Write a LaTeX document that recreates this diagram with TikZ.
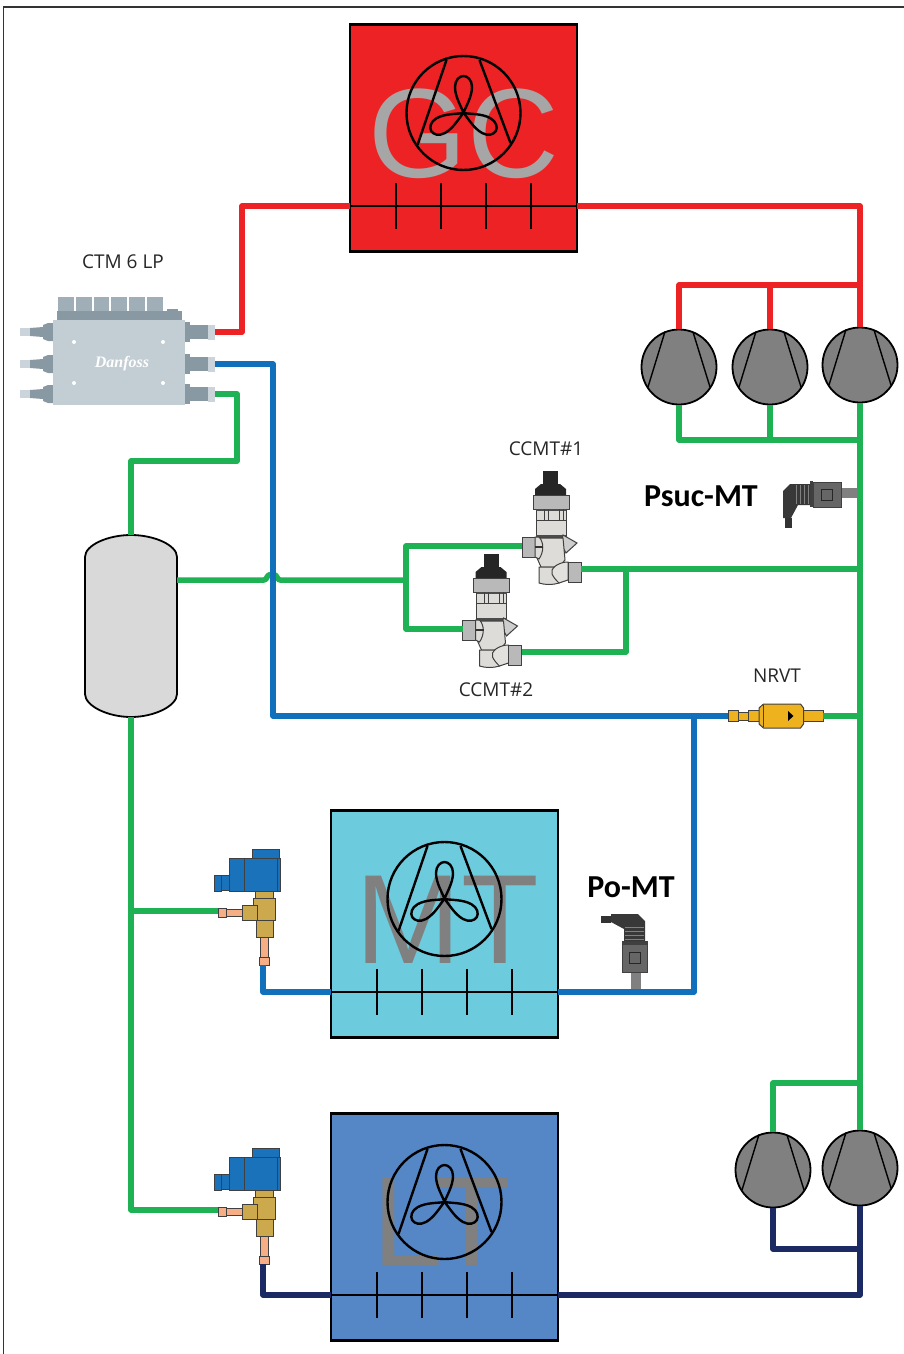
\documentclass[tikz,border=0pt]{standalone}
\usepackage{fontspec}
\setmainfont{Open Sans}
\newfontfamily\boldlabelfont{Carlito}
\newfontfamily\unitfont{Liberation Sans}
\newfontfamily\logofont{Liberation Serif}
\definecolor{pipeRed}{HTML}{ED2224}
\definecolor{pipeGreen}{HTML}{1FB254}
\definecolor{pipeBlue}{HTML}{1170BC}
\definecolor{pipeNavy}{HTML}{1C2A64}
\definecolor{mtFill}{HTML}{6CCCDE}
\definecolor{ltFill}{HTML}{5587C6}
\definecolor{ctmBody}{HTML}{C3CDD4}
\definecolor{ctmDark}{HTML}{8899A3}
\definecolor{ctmMid}{HTML}{A0AFB7}
\definecolor{brass}{HTML}{CBA94C}
\definecolor{copperTube}{HTML}{F5AE86}
\definecolor{coilBlue}{HTML}{1A72BA}
\definecolor{valveLight}{HTML}{DDDCD8}
\definecolor{valveGray}{HTML}{B9B9B9}
\definecolor{nrvtGold}{HTML}{EFB21F}
\tikzset{
  pipeline/.style={line width=5.5pt,line join=round},
  unitbox/.style={draw=black,line width=2.7pt,minimum size=227pt,inner sep=0pt},
  unitletters/.style={anchor=base,inner sep=0pt,font=\unitfont\fontsize{127}{127}\selectfont},
  unitline/.style={draw=black,line width=2.4pt},
  fanline/.style={draw=black,line width=2.4pt},
  compressor/.style={circle,draw=black,line width=1.8pt,fill=gray,minimum size=75pt,inner sep=0pt},
  comphead/.style={draw=black,line width=1.4pt},
  complabel/.style={font=\fontsize{19}{19}\selectfont,text=black!85},
  sensorlabel/.style={font=\boldlabelfont\bfseries\fontsize{32}{32}\selectfont},
  partline/.style={draw=black!75,line width=1pt},
  pics/fancoil/.style={code={
    \coordinate (-in) at (-113.5,68);
    \coordinate (-out) at (113.5,68);
    \draw[unitline] (-in) -- (-out);
    \foreach \tickX in {-67.5,-22.5,22.5,67.5}
      \draw[unitline] (\tickX,45) -- (\tickX,91);
    \draw[fanline] (0,-25) circle[radius=57pt];
    \draw[fanline] (-17,-78) -- (-46,7) (16,-78) -- (47,5);
    \foreach \bladeAngle in {0,119,-119}
      \draw[fanline,shift={(0,-25)},rotate=\bladeAngle] (0,0)
        .. controls (-2,-6) and (-8.5,-16) .. (-8.5,-26)
        .. controls (-8.5,-33) and (-4,-37) .. (0,-37)
        .. controls (4,-37) and (8.5,-33) .. (8.5,-26)
        .. controls (8.5,-16) and (2,-6) .. (0,0);
  }},
  pics/ccmtvalve/.style={code={
    \coordinate (-in) at (-28,16);
    \coordinate (-out) at (31,39);
    \fill[black!85] (-7,-59) rectangle (8,-45);
    \fill[black!85] (-15,-35) -- (-15,-41) -- (-9,-46) -- (10,-46) -- (16,-41) -- (16,-35) -- cycle;
    \draw[partline,fill=valveGray] (-17,-35) rectangle (19,-21);
    \draw[partline,fill=valveLight] (-14,-21) rectangle (16,-10);
    \fill[black!70] (-14,-21) rectangle (16,-19);
    \draw[partline] (-6,-21) -- (-6,-10) (-2,-21) -- (-2,-10) (9,-21) -- (9,-10) (13,-21) -- (13,-10);
    \draw[partline,fill=valveLight] (-14,-10) rectangle (16,8);
    \fill[black!70] (-14,5) rectangle (16,8);
    \draw[partline,fill=valveGray!70] (13,5) -- (27,13) -- (16,23) -- (11,14) -- cycle;
    \draw[partline,fill=valveLight] (-13,8) -- (13,8) -- (15,30) -- (9,37) -- (-9,37) -- (-13,28) -- cycle;
    \draw[partline,fill=valveGray] (-28,7) rectangle (-15,27);
    \draw[partline,fill=valveLight] (-15,7) -- (-11,7) .. controls (-6,12) and (-6,22) .. (-11,29) -- (-15,27) -- cycle;
    \fill[black!80] (-15,16) rectangle (-7,18);
    \draw[partline,fill=valveLight] (-11,37) -- (9,37) -- (9,53) .. controls (3,55) and (-5,55) .. (-11,53) -- cycle;
    \draw[partline,fill=valveLight!85] (2,44) .. controls (0,38) and (8,33) .. (16,32) -- (18,32) -- (18,50) -- (9,53) .. controls (6,50) and (4,48) .. (2,44) -- cycle;
    \draw[partline,fill=valveGray] (18,32) rectangle (31,52);
  }},
  pics/solenoidvalve/.style={code={
    \coordinate (-in) at (-32,11);
    \coordinate (-out) at (13,65);
    \draw[partline,fill=coilBlue] (2,-51) rectangle (29,-42);
    \draw[partline,fill=coilBlue] (-21,-42) rectangle (30,-9);
    \draw[partline] (-6,-42) -- (-6,-9) (27,-42) -- (27,-9);
    \draw[partline,fill=coilBlue] (-29,-25) rectangle (-21,-10);
    \draw[partline,fill=coilBlue] (-36,-25) rectangle (-29,-9);
    \draw[partline,fill=copperTube] (10,37) rectangle (18,57);
    \draw[partline,fill=copperTube] (9,57) rectangle (19,65);
    \draw[partline,fill=copperTube] (-24,9) rectangle (-8,16);
    \draw[partline,fill=copperTube] (-32,8) rectangle (-24,17);
    \draw[partline,fill=brass] (5,-9) rectangle (23,-2);
    \draw[partline,fill=brass] (3,-2) rectangle (25,20);
    \draw[partline,fill=brass] (6,20) rectangle (23,37);
    \draw[partline,fill=brass] (-8,5) rectangle (7,20);
  }},
  pics/pressuresensor/.style={code={
    \coordinate (-tip) at (0,0);
    \fill[black!50] (-17,-5) rectangle (0,5);
    \draw[partline,fill=black!60] (-45,-11) rectangle (-17,14);
    \draw[black!85,line width=.6pt] (-37,-4) rectangle (-26,7);
    \fill[black!75] (-48,-12) rectangle (-45,14);
    \fill[black!78] (-75,-2) -- (-68,-9) -- (-48,-9) -- (-48,12) -- (-60,12) -- (-67,25) -- (-75,25) -- cycle;
    \fill[black!80] (-73,25) rectangle (-66,35);
    \foreach \ribX in {-62,-58,-54,-50}
      \draw[black!50,line width=.5pt] (\ribX,-8) -- (\ribX,11);
  }},
  pics/nrvtvalve/.style={code={
    \coordinate (-in) at (-47.5,0);
    \coordinate (-out) at (47.5,0);
    \draw[partline,fill=nrvtGold] (-47.5,-5.5) rectangle (-37.5,5.5);
    \draw[partline,fill=nrvtGold] (-37.5,-3.5) rectangle (-27.5,4.5);
    \draw[partline,fill=nrvtGold] (-27.5,-5.5) rectangle (-16.5,5.5);
    \draw[partline,fill=nrvtGold] (27.5,-5.5) rectangle (47.5,5.5);
    \draw[partline,fill=nrvtGold] (-16.5,-8) -- (-12,-12) -- (25,-12) -- (28,-8) -- (28,8) -- (25,12) -- (-12,12) -- (-16.5,8) -- cycle;
    \draw[partline] (-12.5,-11) -- (-12.5,11);
    \fill[black] (12.5,-5) -- (18,0) -- (12.5,5) -- cycle;
  }},
}
\begin{document}
\begin{tikzpicture}[x=1pt,y=-1pt]
  \pgfmathsetmacro{\trunkX}{860}
  \pgfmathsetmacro{\receiverTop}{535}
  \pgfmathsetmacro{\receiverBottom}{717}
  \useasboundingbox (0,0) rectangle (904,1354);

  % Frame
  \draw[black!80,line width=1.8pt] (3.5,1354) -- (3.5,7) -- (904,7);

  % Cooler and cabinets
  \node[unitbox,fill=pipeRed] (gcBox) at (463.5,138) {};
  \node[unitletters,text=black!35] (gcText) at (464,177) {GC};
  \pic (gcCoil) at (gcBox.center) {fancoil};
  \node[unitbox,fill=mtFill] (mtBox) at (444.5,924) {};
  \node[unitletters,text=gray] (mtText) at (447,963) {MT};
  \pic (mtCoil) at (mtBox.center) {fancoil};
  \node[unitbox,fill=ltFill] (ltBox) at (444.5,1227) {};
  \node[unitletters,text=gray] (ltText) at (442,1265) {LT};
  \pic (ltCoil) at (ltBox.center) {fancoil};

  % Compressors
  \foreach \compName/\compX/\compY in {compA/679/367,compB/770/367,compC/\trunkX/365,compD/773/1170,compE/\trunkX/1168} {
    \node[compressor] (\compName) at (\compX,\compY) {};
    \draw[comphead,shift={(\compX,\compY)}] (-14,-35.5) -- (-31,20) (14,-35) -- (31,20);
  }

  % Valves and sensors
  \pic (ccmtA) at (550,530) {ccmtvalve};
  \pic (ccmtB) at (490.5,613) {ccmtvalve};
  \pic (solMT) at (250,900) {solenoidvalve};
  \pic (solLT) at (250,1199) {solenoidvalve};
  \pic (psuc) at (858,493) {pressuresensor};
  \pic[rotate=-90] (pomt) at (636,989) {pressuresensor};
  \pic (nrvt) at (775.5,716) {nrvtvalve};

  % Receiver
  \draw[draw=black,line width=1.8pt,fill=black!15] (85,557)
    .. controls (85,545) and (108,535) .. (131,535)
    .. controls (154,535) and (177,545) .. (177,557) -- (177,694)
    .. controls (177,706) and (154,717) .. (131,717)
    .. controls (108,717) and (85,706) .. (85,694) -- cycle;
  \coordinate (recTop) at (131,\receiverTop);
  \coordinate (recBottom) at (131,\receiverBottom);
  \coordinate (recSide) at (177,580);

  % CTM
  \coordinate (ctmRed) at (215,332);
  \coordinate (ctmBlue) at (215,364);
  \coordinate (ctmGreen) at (215,394);
  \foreach \actX in {58,76,93.5,111,129,147}
    \fill[ctmMid] (\actX,297) rectangle +(15.5,14);
  \fill[ctmDark] (167,309) rectangle (178,320);
  \fill[ctmDark] (57,311) rectangle (182,320);
  \foreach \portY in {332,364,394} {
    \fill[ctmDark] (185,\portY-10) rectangle (190,\portY+10);
    \fill[ctmDark] (190,\portY-7) rectangle (208,\portY+7);
    \fill[ctmBody!85] (208,\portY-7.5) rectangle (215,\portY+7.5);
    \fill[ctmDark] (30,\portY-4) -- (43,\portY-5) -- (43,\portY-7) -- (48,\portY-9) -- (53,\portY-9) -- (53,\portY+9) -- (48,\portY+9) -- (43,\portY+7) -- (43,\portY+5) -- (30,\portY+4) -- cycle;
    \fill[ctmBody!85] (20,\portY-4) rectangle (30,\portY+4);
  }
  \fill[ctmBody] (53,320) rectangle (185,405);
  \foreach \boltX/\boltY in {74/342,163/342,74/383,163/383}
    \fill[white] (\boltX,\boltY) circle[radius=2pt];
  \node[text=white,font=\logofont\bfseries\itshape\fontsize{16}{16}\selectfont] (ctmLogo) at (122,364) {Danfoss};

  % Red pipes
  \coordinate (gasHeader) at (\trunkX,285);
  \coordinate (gasTurn) at (242,206);
  \draw[pipeline,pipeRed] (ctmRed) -| (gasTurn) -- (gcCoil-in);
  \draw[pipeline,pipeRed] (gcCoil-out) -| (compC.north);
  \draw[pipeline,pipeRed] (compA.north) |- (gasHeader);
  \draw[pipeline,pipeRed] (compB.north) -- (compB.north|-gasHeader);

  % Green pipes
  \coordinate (sucHeader) at (\trunkX,440);
  \coordinate (ltHeader) at (\trunkX,1083);
  \coordinate (ccmtTeeA) at (406,580);
  \coordinate (ccmtTeeB) at (626,569);
  \coordinate (nrvtTee) at (\trunkX,716);
  \coordinate (ctmRise) at (237,461);
  \coordinate (solTee) at (131,911);
  \draw[pipeline,pipeGreen] (compC.south) -- (compE.north);
  \draw[pipeline,pipeGreen] (compA.south) |- (sucHeader);
  \draw[pipeline,pipeGreen] (compB.south) -- (compB.south|-sucHeader);
  \draw[pipeline,pipeGreen] (ctmGreen) -| (ctmRise) -| (recTop);
  \draw[pipeline,pipeGreen] (recSide) -- (264,580) .. controls (268,580) and (265,574.5) .. (272,574.5) .. controls (279,574.5) and (276,580) .. (280,580) -- (ccmtTeeA);
  \draw[pipeline,pipeGreen] (ccmtA-in) -| (ccmtTeeA) |- (ccmtB-in);
  \draw[pipeline,pipeGreen] (ccmtA-out) -- (\trunkX,569);
  \draw[pipeline,pipeGreen] (ccmtTeeB) |- (ccmtB-out);
  \draw[pipeline,pipeGreen] (nrvt-out) -- (nrvtTee);
  \draw[pipeline,pipeGreen] (recBottom) |- (solLT-in);
  \draw[pipeline,pipeGreen] (solTee) -- (solMT-in);
  \draw[pipeline,pipeGreen] (compD.north) |- (ltHeader);

  % Blue pipes
  \coordinate (liquidTurn) at (273,716);
  \coordinate (mtTee) at (694,716);
  \draw[pipeline,pipeBlue] (ctmBlue) -| (liquidTurn) -- (nrvt-in);
  \draw[pipeline,pipeBlue] (mtTee) |- (mtCoil-out);
  \draw[pipeline,pipeBlue] (solMT-out) |- (mtCoil-in);

  % Navy pipes
  \coordinate (ltTee) at (\trunkX,1249);
  \draw[pipeline,pipeNavy] (solLT-out) |- (ltCoil-in);
  \draw[pipeline,pipeNavy] (ltCoil-out) -| (compE.south);
  \draw[pipeline,pipeNavy] (compD.south) |- (ltTee);

  % Labels
  \node[complabel] (ctmLabel) at (123,262) {CTM 6 LP};
  \node[complabel] (ccmtLabelA) at (546,449) {CCMT\#1};
  \node[complabel] (ccmtLabelB) at (496,690) {CCMT\#2};
  \node[complabel] (nrvtLabel) at (777,676) {NRVT};
  \node[sensorlabel] (psucLabel) at (701,496) {Psuc-MT};
  \node[sensorlabel] (pomtLabel) at (631,887) {Po-MT};
\end{tikzpicture}
\end{document}
